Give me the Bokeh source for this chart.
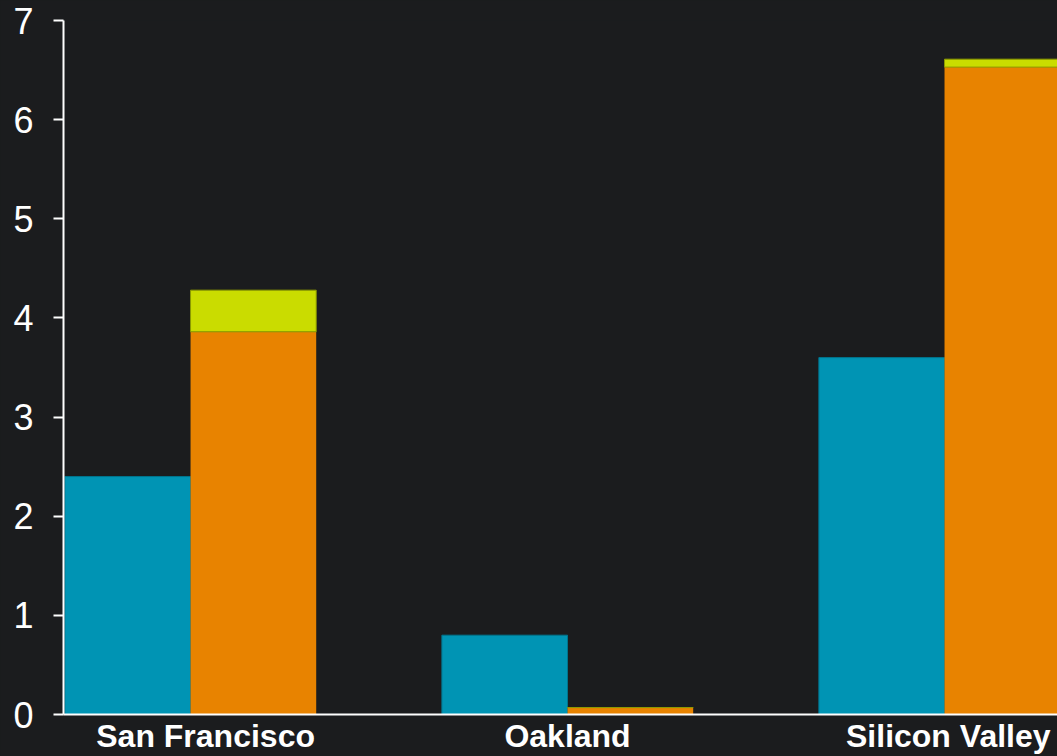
from bokeh.plotting import figure
from bokeh.models import FixedTicker, Range1d
from bokeh.embed import file_html
from bokeh.resources import INLINE

# ---- data ----
categories = ["San Francisco", "Oakland", "Silicon Valley"]
series_blue = [2.4, 0.8, 3.6]
series_orange = [3.86, 0.07, 6.53]
series_lime = [0.42, 0.0, 0.08]
y_ticks = [0, 1, 2, 3, 4, 5, 6, 7]

# ---- layout/style ----
BG = "#1b1c1e"
BLUE = "#0094b4"
ORANGE = "#e88300"
LIME = "#cadc00"
label_shift = [0.04, 0.0, 0.01]
bar_w = 1 / 3

idx = list(range(len(categories)))
x_blue = [i - bar_w / 2 for i in idx]
x_orange = [i + bar_w / 2 for i in idx]
lime_top = [o + l for o, l in zip(series_orange, series_lime)]

p = figure(width=1057, height=756, output_backend="svg", toolbar_location=None,
           x_range=Range1d(-0.337, 2.2997), y_range=Range1d(0, 7),
           min_border_left=63, min_border_right=0, min_border_top=20,
           min_border_bottom=41)
p.background_fill_color = BG
p.border_fill_color = BG
p.outline_line_color = None
p.grid.visible = False
p.styles = {"background-color": BG}

p.vbar(x=x_blue, width=bar_w, bottom=0, top=series_blue,
       fill_color=BLUE, line_color="#00758e", line_width=1)
p.vbar(x=x_orange, width=bar_w, bottom=0, top=series_orange,
       fill_color=ORANGE, line_color=None)
p.vbar(x=x_orange, width=bar_w, bottom=series_orange, top=lime_top,
       fill_color=LIME, line_color="#8c9a00", line_width=1)

# y axis
ya = p.yaxis[0]
ya.ticker = FixedTicker(ticks=y_ticks)
ya.axis_line_color = "white"
ya.axis_line_width = 2
ya.major_tick_line_color = "white"
ya.major_tick_line_width = 2
ya.major_tick_out = 10
ya.major_tick_in = 0
ya.minor_tick_line_color = None
ya.major_label_text_color = "white"
ya.major_label_text_font = "Liberation Sans"
ya.major_label_text_font_size = "36px"
ya.major_label_standoff = 20

# x axis
xa = p.xaxis[0]
tick_pos = [i + s for i, s in zip(idx, label_shift)]
xa.ticker = FixedTicker(ticks=tick_pos)
xa.major_label_overrides = {t: c for t, c in zip(tick_pos, categories)}
xa.axis_line_color = "white"
xa.axis_line_width = 2
xa.major_tick_line_color = None
xa.minor_tick_line_color = None
xa.major_tick_out = 0
xa.major_tick_in = 0
xa.major_label_text_color = "white"
xa.major_label_text_font = "Liberation Sans"
xa.major_label_text_font_style = "bold"
xa.major_label_text_font_size = "32px"
xa.major_label_standoff = 3

open("out.html", "w").write(file_html(p, INLINE))
